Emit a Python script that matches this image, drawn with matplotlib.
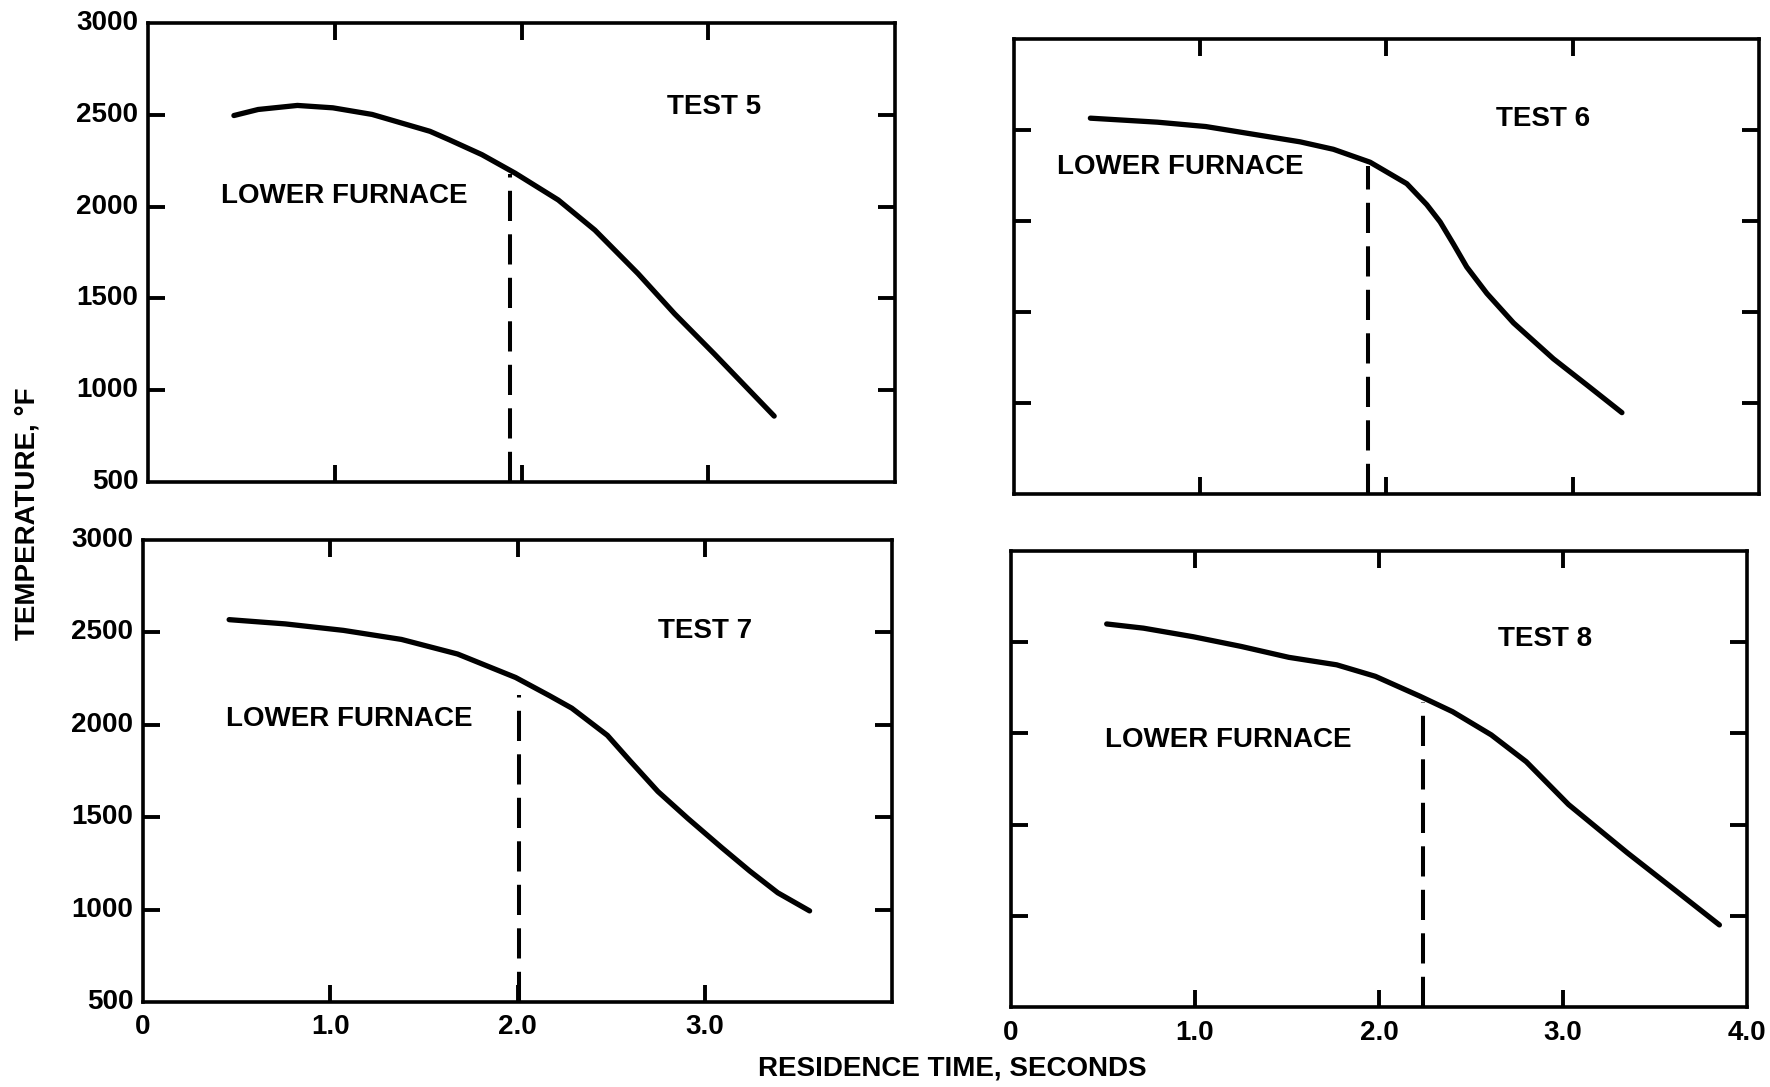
import matplotlib
matplotlib.use("Agg")
import matplotlib.pyplot as plt

plt.rcParams['font.family'] = ['Liberation Sans', 'DejaVu Sans']
plt.rcParams['font.weight'] = 'bold'

# ---- data ----
x5 = [0.46, 0.59, 0.80, 0.99, 1.20, 1.51, 1.611, 1.788, 1.966, 2.197, 2.393, 2.624, 2.820, 3.033, 3.353]
t5 = [2496, 2529, 2551, 2538, 2502, 2410, 2365, 2283, 2182, 2036, 1872, 1635, 1416, 1197, 859]

x6 = [0.41, 0.77, 1.03, 1.536, 1.715, 1.912, 2.109, 2.216, 2.288, 2.359, 2.431, 2.539, 2.682, 2.896, 3.076, 3.264]
t6 = [2565, 2543, 2519, 2435, 2394, 2323, 2205, 2090, 1995, 1874, 1747, 1602, 1440, 1243, 1099, 947]

x7 = [0.46, 0.76, 1.07, 1.38, 1.68, 1.99, 2.17, 2.29, 2.48, 2.60, 2.75, 2.91, 3.09, 3.24, 3.39, 3.56]
t7 = [2569, 2546, 2511, 2462, 2383, 2256, 2158, 2090, 1943, 1806, 1639, 1493, 1336, 1209, 1091, 993]

x8 = [0.52, 0.72, 0.99, 1.25, 1.51, 1.77, 1.98, 2.22, 2.40, 2.61, 2.80, 3.03, 3.35, 3.61, 3.85]
t8 = [2600, 2577, 2530, 2477, 2417, 2376, 2313, 2205, 2119, 1992, 1845, 1610, 1345, 1140, 950]

test_names = ["TEST 5", "TEST 6", "TEST 7", "TEST 8"]
dash_x = [1.94, 1.90, 2.01, 2.24]
dash_top = [2175, 2300, 2160, 2170]
test_label_pos = [(3.03, 2545), (2.84, 2560), (3.00, 2510), (2.90, 2515)]
furnace_label_pos = [(1.05, 2060), (0.89, 2295), (1.10, 2030), (1.18, 1965)]

y_ticks = [500, 1000, 1500, 2000, 2500, 3000]
y_ticklabels = ["500", "1000", "1500", "2000", "2500", "3000"]
x_ticks = [0, 1, 2, 3, 4]
x_ticklabels = ["0", "1.0", "2.0", "3.0", "4.0"]

series = [(x5, t5), (x6, t6), (x7, t7), (x8, t8)]

# ---- figure ----
W, H = 1770, 1087
fig = plt.figure(figsize=(W / 100, H / 100), dpi=100)

# panel boxes in pixels: left, right, top, bottom
boxes = [(148, 895, 23, 482), (1014, 1759, 39, 494),
         (143, 892, 540, 1002), (1011, 1747, 551, 1007)]

for i, (l, r, t, b) in enumerate(boxes):
    ax = fig.add_axes([l / W, 1 - b / H, (r - l) / W, (b - t) / H])
    xs, ts = series[i]
    ax.plot(xs, ts, color='black', lw=3.8, solid_capstyle='round', solid_joinstyle='round')
    ax.plot([dash_x[i], dash_x[i]], [500, dash_top[i]], color='black', lw=2.9,
            dashes=(7.5, 3.3))
    ax.set_xlim(0, 4)
    ax.set_ylim(500, 3000)
    for s in ax.spines.values():
        s.set_linewidth(2.6)
    ax.set_xticks([1, 2, 3])
    ax.set_yticks([1000, 1500, 2000, 2500])
    ax.tick_params(direction='in', length=12, width=2.8, top=True, right=True,
                   labelbottom=False, labelleft=False)
    tx, ty = test_label_pos[i]
    ax.text(tx, ty, test_names[i], ha='center', va='center', fontsize=20,
            fontweight='bold')
    fx, fy = furnace_label_pos[i]
    ax.text(fx, fy, "LOWER FURNACE", ha='center', va='center', fontsize=20,
            fontweight='bold')
    # tick labels
    if i in (0, 2):
        for v, lab in zip(y_ticks, y_ticklabels):
            ax.annotate(lab, xy=(0, v), xycoords=('axes fraction', 'data'),
                        xytext=(-7, 0), textcoords='offset points',
                        ha='right', va='center', fontsize=20, fontweight='bold')
    if i in (2, 3):
        nlab = 4 if i == 2 else 5
        for v, lab in zip(x_ticks[:nlab], x_ticklabels[:nlab]):
            ax.annotate(lab, xy=(v, 0), xycoords=('data', 'axes fraction'),
                        xytext=(0, -9), textcoords='offset points',
                        ha='center', va='top', fontsize=20, fontweight='bold')

fig.text(28 / W, 1 - 514 / H, "TEMPERATURE, °F", rotation=90, ha='center',
         va='center', fontsize=20, fontweight='bold')
fig.text(952 / W, 1 - 1068 / H, "RESIDENCE TIME, SECONDS", ha='center',
         va='center', fontsize=20, fontweight='bold')

fig.savefig("out.png", dpi=100, facecolor='white')
